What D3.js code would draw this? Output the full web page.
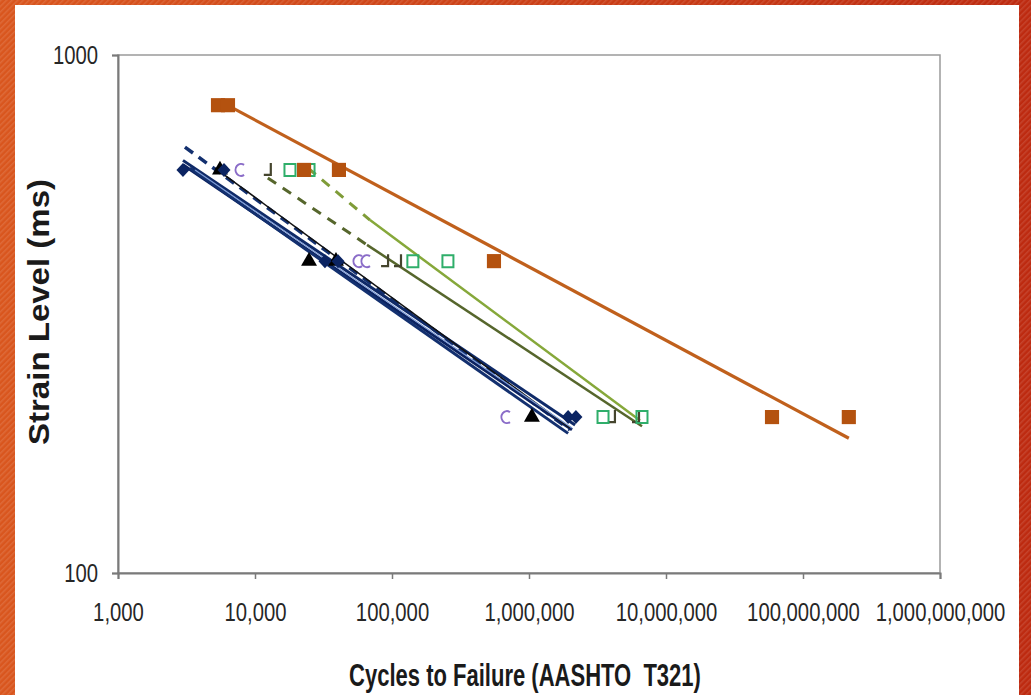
<!DOCTYPE html>
<html>
<head>
<meta charset="utf-8">
<script src="https://cdn.jsdelivr.net/npm/d3@7"></script>
<style>
  body { margin: 0; background: #c8401a; }
  svg { display: block; }
  .tick text { font-family: "Liberation Sans Narrow", "Liberation Sans", Arial, sans-serif; fill: #262626; }
  .title { font-family: "Liberation Sans", Arial, sans-serif; font-weight: bold; fill: #1a1a1a; }
</style>
</head>
<body>
<div id="chart"></div>
<script>
var width = 1031;
var height = 695;
var plot = {left: 118, right: 940, top: 55, bottom: 573};

// ---- data (cycles to failure vs. strain level)
var xTicks = [1e3, 1e4, 1e5, 1e6, 1e7, 1e8, 1e9];
var yTicks = [100, 1000];

// orange filled squares
var orangeCycles = [5370, 6350, 22800, 41000, 555000, 59400000, 216000000];
var orangeStrain = [800, 800, 600, 600, 400, 200, 200];
// navy diamonds
var navyCycles = [2980, 5940, 32400, 40400, 1930000, 2200000];
var navyStrain = [600, 600, 400, 400, 200, 200];
// black triangles
var blackCycles = [5550, 24800, 39000, 1050000];
var blackStrain = [600, 400, 400, 200];
// purple open marks
var purpleCycles = [7780, 56500, 64600, 679000];
var purpleStrain = [600, 400, 400, 200];
// dark olive open marks
var oliveCycles = [12400, 89000, 110600, 4030000, 6040000];
var oliveStrain = [600, 400, 400, 200, 200];
// green open squares
var greenCycles = [18000, 24800, 142000, 256000, 3470000, 6680000];
var greenStrain = [600, 600, 400, 400, 200, 200];

// fitted lines: [cycles, strain] end points
var orangeFit = [[5370, 818], [216000000, 182]];
var navyFit1 = [[2980, 626], [2170000, 193]];
var navyFit2 = [[2980, 614], [2060000, 189]];
var navyFit3 = [[3350, 605], [1930000, 186]];
var navyFitDash = [[3080, 664], [1990000, 189]];
var lightBlueFit = [[3650, 600], [2060000, 190.5]];
var blackFit = [[5110, 605], [1990000, 190.5]];
var oliveFitDash = [[12400, 579], [65700, 430]];
var oliveFit = [[65700, 430], [6680000, 192]];
var greenFitDash = [[24400, 605], [69100, 480]];
var greenFit = [[69100, 480], [6460000, 197]];

var zip = (a, b) => a.map((d, i) => [d, b[i]]);

// ---- svg & background
var svg = d3.select("#chart").append("svg")
  .attr("width", width)
  .attr("height", height);

var defs = svg.append("defs");
var grad = defs.append("linearGradient").attr("id", "bg");
grad.append("stop").attr("offset", "0%").attr("stop-color", "#d9561e");
grad.append("stop").attr("offset", "100%").attr("stop-color", "#bd2a10");
var pat = defs.append("pattern").attr("id", "stripes")
  .attr("width", 4).attr("height", 4)
  .attr("patternUnits", "userSpaceOnUse")
  .attr("patternTransform", "rotate(45)");
pat.append("rect").attr("width", 1.5).attr("height", 4).attr("fill", "#ffffff").attr("opacity", 0.12);

svg.append("rect").attr("width", width).attr("height", height).attr("fill", "url(#bg)");
svg.append("rect").attr("width", width).attr("height", height).attr("fill", "url(#stripes)");
svg.append("rect").attr("x", 15).attr("y", 5).attr("width", 1004).attr("height", 690).attr("fill", "#ffffff");

// ---- scales & axes
var x = d3.scaleLog().domain([1e3, 1e9]).range([plot.left, plot.right]);
var y = d3.scaleLog().domain([100, 1000]).range([plot.bottom, plot.top]);

svg.append("rect")
  .attr("x", plot.left).attr("y", plot.top)
  .attr("width", plot.right - plot.left).attr("height", plot.bottom - plot.top)
  .attr("fill", "none").attr("stroke", "#9a9a9a").attr("stroke-width", 1.5);

var xAxis = d3.axisBottom(x).tickValues(xTicks).tickFormat(d3.format(",")).tickSize(6).tickPadding(24);
var yAxis = d3.axisLeft(y).tickValues(yTicks).tickFormat(d3.format("d")).tickSize(6).tickPadding(14);

var gx = svg.append("g").attr("transform", "translate(0," + plot.bottom + ")").call(xAxis);
var gy = svg.append("g").attr("transform", "translate(" + plot.left + ",0)").call(yAxis);
[gx, gy].forEach(function(g) {
  g.attr("font-family", null);
  g.select(".domain").attr("stroke", "#7a7a7a").attr("stroke-width", 2);
  g.selectAll(".tick line").attr("stroke", "#7a7a7a").attr("stroke-width", 1.5);
  g.selectAll(".tick text").attr("font-size", 26);
});

// narrow tick labels; fall back to squeezing if the narrow face is missing
function narrow(sel, k) {
  sel.each(function() {
    var t = d3.select(this);
    t.style("font-family", "'Liberation Sans'");
    var wide = this.getComputedTextLength();
    t.style("font-family", null);
    var now = this.getComputedTextLength();
    if (now > wide * 0.9) {
      t.attr("textLength", wide * k).attr("lengthAdjust", "spacingAndGlyphs");
    }
  });
}
narrow(gx.selectAll(".tick text"), 0.78);
narrow(gy.selectAll(".tick text"), 0.78);

// titles
var xt = svg.append("text").attr("class", "title")
  .attr("x", 525).attr("y", 686)
  .attr("text-anchor", "middle").attr("font-size", 31)
  .text("Cycles to Failure (AASHTO\u00a0 T321)");
xt.attr("textLength", xt.node().getComputedTextLength() * 0.71).attr("lengthAdjust", "spacingAndGlyphs");

svg.append("text").attr("class", "title")
  .attr("transform", "translate(49,312) rotate(-90)")
  .attr("text-anchor", "middle").attr("font-size", 30)
  .attr("textLength", 266).attr("lengthAdjust", "spacingAndGlyphs")
  .text("Strain Level (ms)");

// ---- fitted lines
var line = d3.line().x((d) => x(d[0])).y((d) => y(d[1]));
var fits = [
  {d: orangeFit, c: "#c0601c", w: 3.2, dash: null},
  {d: oliveFitDash, c: "#56662c", w: 3, dash: "10,8"},
  {d: oliveFit, c: "#56662c", w: 2.5, dash: null},
  {d: greenFitDash, c: "#7f9c38", w: 3, dash: "10,8"},
  {d: greenFit, c: "#86a83a", w: 2.5, dash: null},
  {d: navyFitDash, c: "#13306f", w: 3.5, dash: "10,7"},
  {d: navyFit1, c: "#0f2a68", w: 3, dash: null},
  {d: navyFit2, c: "#0b2260", w: 3, dash: null},
  {d: navyFit3, c: "#13306f", w: 3, dash: null},
  {d: blackFit, c: "#111111", w: 1.5, dash: null},
  {d: lightBlueFit, c: "#7d9bd6", w: 1.2, dash: null}
];
svg.append("g").selectAll("path").data(fits).enter().append("path")
  .attr("d", (f) => line(f.d))
  .attr("fill", "none")
  .attr("stroke", (f) => f.c)
  .attr("stroke-width", (f) => f.w)
  .attr("stroke-dasharray", (f) => f.dash);

// ---- markers
function markers(pts, shape, fill, stroke, sw) {
  svg.append("g").selectAll("path").data(pts).enter().append("path")
    .attr("transform", (d) => "translate(" + x(d[0]) + "," + y(d[1]) + ")")
    .attr("d", shape)
    .attr("fill", fill)
    .attr("stroke", stroke)
    .attr("stroke-width", sw);
}
var cShape = "M4,-5 A5.5,6 0 1 0 4,5";
var jShape = "M3,-7 V5 H-4";
var sqOpen = "M-5.5,-6 H5.5 V6 H-5.5 Z";
var diamond = "M0,-7 L6.5,0 L0,7 L-6.5,0 Z";

markers(zip(purpleCycles, purpleStrain), cShape, "none", "#8a6cc8", 2);
markers(zip(oliveCycles, oliveStrain), jShape, "none", "#45452e", 2.2);
markers(zip(greenCycles, greenStrain), sqOpen, "none", "#2fae6a", 2);
markers(zip(blackCycles, blackStrain), d3.symbol(d3.symbolTriangle, 110)(), "#000000", "none", 0);
markers(zip(navyCycles, navyStrain), diamond, "#0b2462", "none", 0);
markers(zip(orangeCycles, orangeStrain), d3.symbol(d3.symbolSquare, 200)(), "#b4520f", "none", 0);
</script>
</body>
</html>
